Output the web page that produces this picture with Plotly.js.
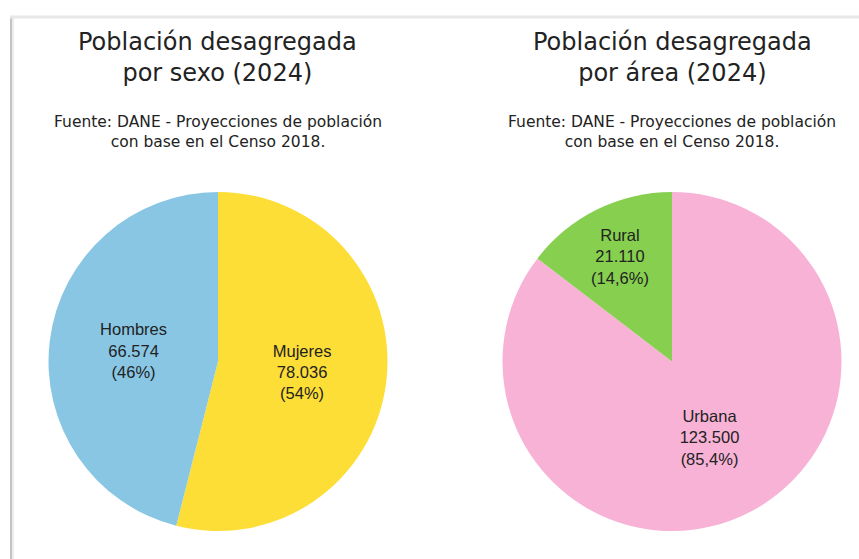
<!DOCTYPE html>
<html>
<head>
<meta charset="utf-8">
<script src="https://cdn.plot.ly/plotly-3.0.1.min.js"></script>
<style>html,body{margin:0;padding:0;background:#fff;}#chart{width:859px;height:559px;}</style>
</head>
<body>
<div id="chart"></div>
<script>
// Data
const sexLabels = ["Mujeres", "Hombres"];
const sexValues = [78036, 66574];
const sexColors = ["#FDDE36", "#88C6E4"];

const areaLabels = ["Urbana", "Rural"];
const areaValues = [123500, 21110];
const areaColors = ["#F8B2D6", "#86CF4F"];

const titleSex = ["Población desagregada", "por sexo (2024)"];
const titleArea = ["Población desagregada", "por área (2024)"];
const sourceLines = ["Fuente: DANE - Proyecciones de población", "con base en el Censo 2018."];

const W = 859, H = 559;
const px = x => x / W;
const py = y => 1 - y / H;

const labelFont = {family: "Liberation Sans, Arial, sans-serif", size: 16.5, color: "#222"};

const traces = [
  {
    type: "pie", labels: sexLabels, values: sexValues, sort: false,
    direction: "clockwise", rotation: 0,
    marker: {colors: sexColors, line: {width: 0}},
    texttemplate: "%{label}<br>%{value:,}<br>(%{percent:.0%})",
    textposition: "inside", insidetextorientation: "horizontal",
    insidetextfont: labelFont, hoverinfo: "label+value+percent",
    domain: {x: [px(48), px(388)], y: [py(531), py(192)]},
    showlegend: false
  },
  {
    type: "pie", labels: areaLabels, values: areaValues, sort: false,
    direction: "clockwise", rotation: 0,
    marker: {colors: areaColors, line: {width: 0}},
    texttemplate: "%{label}<br>%{value:,}<br>(%{percent:.1%})",
    textposition: "inside", insidetextorientation: "horizontal",
    insidetextfont: labelFont, hoverinfo: "label+value+percent",
    domain: {x: [px(502), px(842)], y: [py(531), py(192)]},
    showlegend: false
  }
];

const titleFont = {family: "DejaVu Sans, Verdana, sans-serif", size: 24, color: "#222"};
const srcFont = {family: "DejaVu Sans, Verdana, sans-serif", size: 15.5, color: "#222"};

function ann(lines, cx, top, font) {
  return {text: lines.join("<br>"), x: px(cx), y: py(top), xref: "paper", yref: "paper",
          xanchor: "center", yanchor: "top", showarrow: false, font: font};
}

const annotations = [
  ann(titleSex, 217, 26, titleFont),
  ann(titleArea, 672, 26, titleFont),
  ann(sourceLines, 217.5, 111, srcFont),
  ann(sourceLines, 672, 111, srcFont)
];

const shapes = [
  {type: "line", xref: "paper", yref: "paper", x0: px(11), x1: px(11), y0: 0, y1: py(17), line: {color: "#c4c4c4", width: 2}},
  {type: "line", xref: "paper", yref: "paper", x0: px(13), x1: px(13), y0: 0, y1: py(18), line: {color: "#ececec", width: 2}},
  {type: "line", xref: "paper", yref: "paper", x0: px(10), x1: 1, y0: py(17), y1: py(17), line: {color: "#e8e8e8", width: 3}}
];

const layout = {
  width: W, height: H,
  margin: {l: 0, r: 0, t: 0, b: 0},
  paper_bgcolor: "#fff",
  separators: ",.",
  annotations: annotations,
  shapes: shapes,
  showlegend: false
};

Plotly.newPlot("chart", traces, layout, {displayModeBar: false, staticPlot: true});
</script>
</body>
</html>
